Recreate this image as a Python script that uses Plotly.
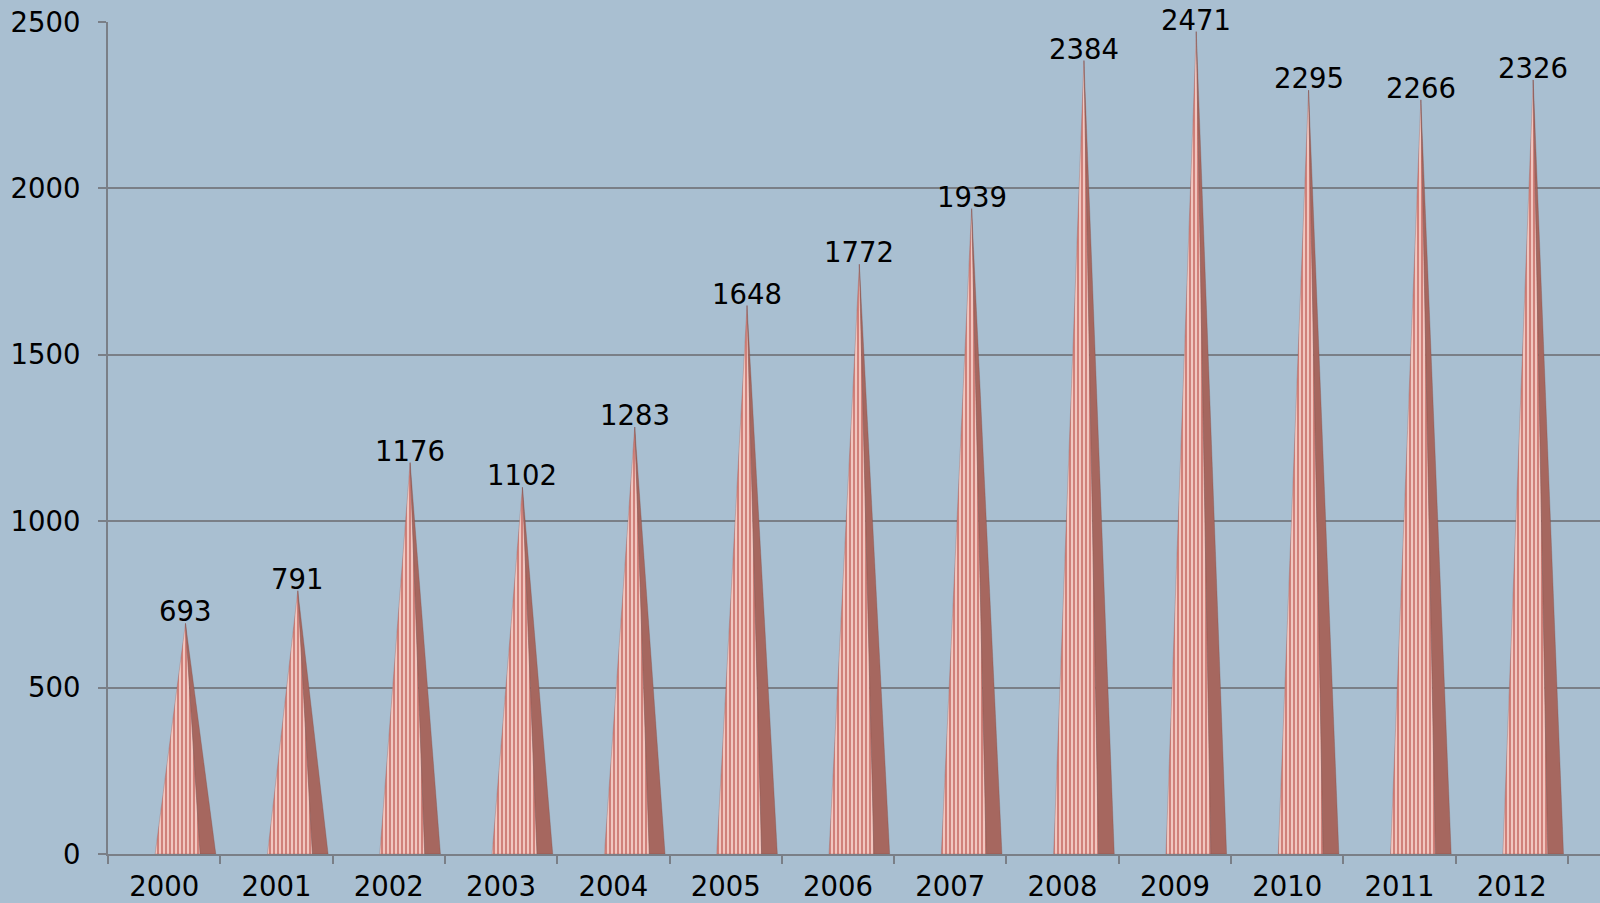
import plotly.graph_objects as go

years = ["2000", "2001", "2002", "2003", "2004", "2005", "2006",
         "2007", "2008", "2009", "2010", "2011", "2012"]
values = [693, 791, 1176, 1102, 1283, 1648, 1772, 1939, 2384, 2471, 2295, 2266, 2326]
y_ticks = [0, 500, 1000, 1500, 2000, 2500]

BG = "#a9bfd1"
FONT = "DejaVu Sans"
FS = 27.5
AXIS_GREY = "#7a7f87"
APEX_OFF = 0.19   # 3D depth shift of the cone relative to category centre
HALF_W = 0.27     # half base width of the cone (category units)
SPLIT = 0.13      # where the shaded side starts at the base

fig = go.Figure()

for i, v in enumerate(values):
    cx = i + APEX_OFF
    # lit (left) face
    fig.add_trace(go.Scatter(
        x=[cx - HALF_W, cx, cx + SPLIT, cx - HALF_W],
        y=[0, v, 0, 0],
        mode="lines", fill="toself",
        line=dict(color="rgba(150,80,75,0.5)", width=0.6),
        fillcolor="#e6a59d",
        fillpattern=dict(shape="|", bgcolor="#f1c6bf", fgcolor="#c86e68",
                         size=4, solidity=0.4, fillmode="replace"),
        hoverinfo="skip", showlegend=False))
    # shaded (right) face
    fig.add_trace(go.Scatter(
        x=[cx + SPLIT, cx, cx + HALF_W, cx + SPLIT],
        y=[0, v, 0, 0],
        mode="lines", fill="toself",
        line=dict(color="rgba(120,70,65,0.5)", width=0.6),
        fillcolor="#a6675f",
        hoverinfo="skip", showlegend=False))

annotations = []
for i, v in enumerate(values):
    annotations.append(dict(
        x=i + APEX_OFF, y=v, text=str(v), showarrow=False,
        xanchor="center", yanchor="middle", yshift=12,
        font=dict(family=FONT, size=FS, color="black")))

fig.update_layout(
    width=1600, height=903,
    margin=dict(l=108, r=0, t=22, b=49),
    paper_bgcolor=BG, plot_bgcolor=BG,
    annotations=annotations,
    xaxis=dict(
        range=[-0.5, 12.785], automargin=False,
        tickmode="array", tickvals=list(range(len(years))), ticktext=years,
        ticks="outside", ticklen=0, tickcolor=AXIS_GREY,
        ticklabelstandoff=7,
        tickfont=dict(family=FONT, size=FS, color="black"),
        showgrid=False, zeroline=False,
        showline=True, linecolor=AXIS_GREY, linewidth=2,
        minor=dict(tickvals=[k - 0.5 for k in range(len(years) + 1)],
                   ticks="outside", ticklen=8, tickcolor=AXIS_GREY,
                   tickwidth=2, showgrid=False),
    ),
    yaxis=dict(
        range=[0, 2500], automargin=False,
        tickmode="array", tickvals=y_ticks,
        ticks="outside", ticklen=8, tickcolor=AXIS_GREY, tickwidth=2,
        ticklabelstandoff=12,
        tickfont=dict(family=FONT, size=FS, color="black"),
        showgrid=True, gridcolor=AXIS_GREY, gridwidth=2,
        zeroline=False,
        showline=True, linecolor=AXIS_GREY, linewidth=2,
    ),
)

fig.write_html("out.html")
